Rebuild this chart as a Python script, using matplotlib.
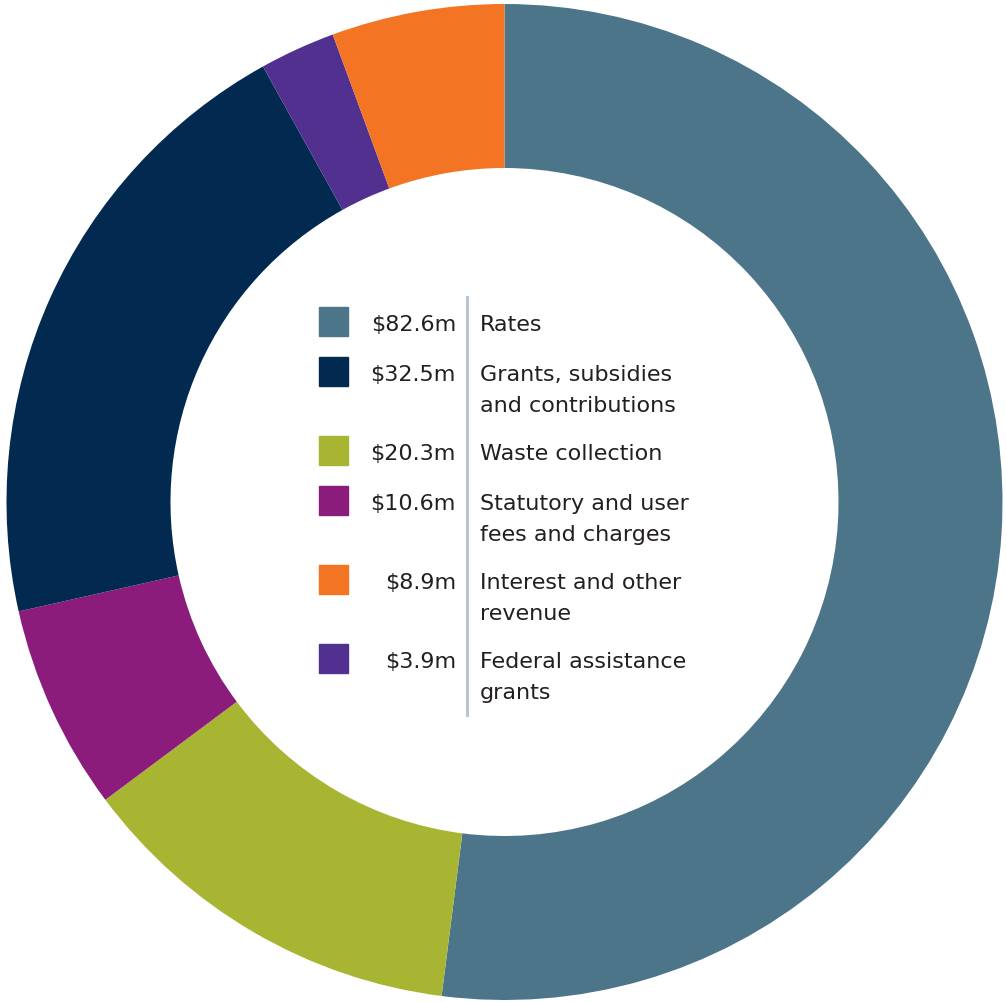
import matplotlib.pyplot as plt
from matplotlib.patches import Rectangle

plt.rcParams['font.family'] = ['DejaVu Sans']

# legend order (largest first)
labels = ["Rates", "Grants, subsidies\nand contributions", "Waste collection",
          "Statutory and user\nfees and charges", "Interest and other\nrevenue",
          "Federal assistance\ngrants"]
values = [82.6, 32.5, 20.3, 10.6, 8.9, 3.9]
colors = ["#4D7589", "#022A50", "#A8B533", "#8B1C7B", "#F37423", "#51308F"]
# clockwise order around the ring, starting at 12 o'clock
pie_order = [0, 2, 3, 1, 5, 4]

W, H = 1006, 1003
fig = plt.figure(figsize=(W / 100, H / 100), dpi=100)
ax = fig.add_axes([0, 0, 1, 1])
ax.axis("off")

cx, cy, R, r_in = 504.5, 503, 498, 334

ax.pie([values[i] for i in pie_order], colors=[colors[i] for i in pie_order],
       startangle=90, counterclock=False, radius=1,
       wedgeprops=dict(width=(R - r_in) / R, linewidth=0))
ax.set_aspect("auto")
ax.set_xlim(-cx / R, (W - cx) / R)
ax.set_ylim(-(H - cy) / R, cy / R)


def fx(px):
    return px / W


def fy(py):
    return 1 - py / H


txt_color = "#231F20"
fs = 16
y = 323
for lab, v, c in zip(labels, values, colors):
    lines = lab.split("\n")
    fig.patches.append(Rectangle((fx(319), fy(y + 14)), 29 / W, 29 / H,
                                 transform=fig.transFigure, color=c))
    fig.text(fx(456), fy(y), f"${v}m", ha="right", va="center_baseline",
             fontsize=fs, color=txt_color)
    for k, line in enumerate(lines):
        fig.text(fx(480), fy(y + 31 * k), line, ha="left",
                 va="center_baseline", fontsize=fs, color=txt_color)
    y += 50 + 29 * (len(lines) - 1)

fig.add_artist(plt.Line2D([fx(467), fx(467)], [fy(298), fy(716)],
                          transform=fig.transFigure, color="#B8C4D2", lw=2.2))

fig.savefig("out.png", dpi=100)
